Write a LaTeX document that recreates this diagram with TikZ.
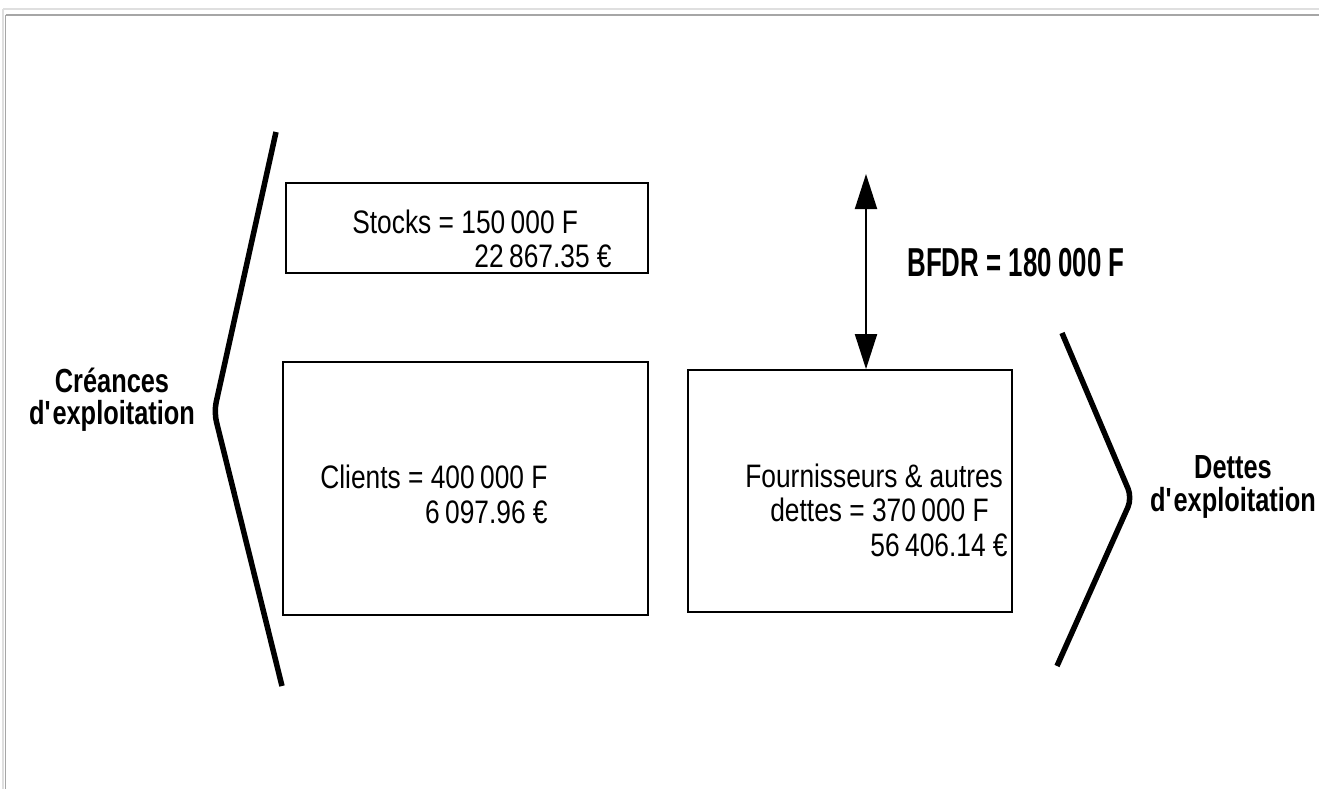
\documentclass[tikz,border=0pt]{standalone}
\usepackage{fontspec}
\newfontfamily\boxfont[FakeStretch=0.81]{Liberation Sans}
\newfontfamily\tagfont[FakeStretch=0.76]{Liberation Sans}
\newfontfamily\bfdrfont[FakeStretch=0.64]{Liberation Sans}
\usetikzlibrary{arrows.meta,positioning,fit}

\begin{document}
\begin{tikzpicture}[x=0.2mm, y=-0.2mm,
  box/.style={draw, line width=0.35mm, inner sep=0pt},
  boxtext/.style={font=\boxfont\fontsize{18.5}{22}\selectfont, inner sep=0pt},
  tagtext/.style={font=\tagfont\bfseries\fontsize{19}{22}\selectfont, inner sep=0pt},
  brace/.style={line width=1.1mm, rounded corners=2mm},
  bothtip/.style={{Triangle[length=7mm,width=4.4mm]}-{Triangle[length=7mm,width=4.4mm]}, line width=0.4mm}]

  \useasboundingbox (0,0) rectangle (1319,789);

  % window frame
  \draw[gray!25, line width=0.4mm] (3,9) -- (1319,9);
  \draw[gray!25, line width=0.3mm] (3,9) -- (3,789);
  \draw[gray!70, line width=0.25mm] (5.5,15) -- (1319,15);
  \draw[gray!70, line width=0.25mm] (5.5,15) -- (5.5,789);

  % Creances side
  \draw[brace] (276,132) -- (214,412) -- (282,686);
  \node[tagtext, anchor=base] (creances) at (112,392) {Créances};
  \node[tagtext, anchor=base] (crexpl) at (112,424) {d\textquotesingle exploitation};

  % Stocks
  \node[box, fit={(286,183) (648,273)}] (stocks) {};
  \node[boxtext, anchor=base west] (stocksF) at (352,233) {Stocks = 150\,000 F};
  \node[boxtext, anchor=base east] (stocksE) at (612,267) {22\,867.35 €};

  % Clients
  \node[box, fit={(283,362) (648,615)}] (clients) {};
  \node[boxtext, anchor=base west] (clientsF) at (320,488) {Clients = 400\,000 F};
  \node[boxtext, anchor=base east] (clientsE) at (548,523) {6\,097.96 €};

  % Fournisseurs
  \node[box, fit={(688,370) (1012,612)}] (fourn) {};
  \node[boxtext, anchor=base west] (fournA) at (745,487) {Fournisseurs \& autres};
  \node[boxtext, anchor=base west] (fournF) at (770,521) {dettes = 370\,000 F};
  \node[boxtext, anchor=base east] (fournE) at (1008,556) {56\,406.14 €};

  % BFDR
  \coordinate (bfdrtop) at (866,174);
  \draw[bothtip] (bfdrtop) -- (bfdrtop |- fourn.north);
  \node[font=\bfdrfont\bfseries\fontsize{23}{26}\selectfont, inner sep=0pt, anchor=base west] (bfdr) at (907,276) {BFDR = 180\,000 F};

  % Dettes side
  \draw[brace] (1062,333) -- (1132,498) -- (1057,666);
  \node[tagtext, anchor=base] (dettes) at (1233,478) {Dettes};
  \node[tagtext, anchor=base] (dexpl) at (1233,511) {d\textquotesingle exploitation};
\end{tikzpicture}
\end{document}
